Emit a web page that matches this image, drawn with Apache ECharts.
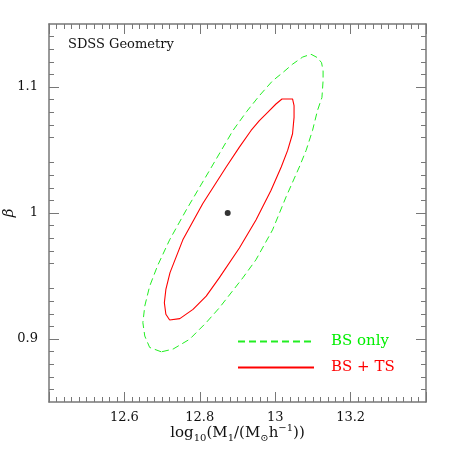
<!DOCTYPE html>
<html>
<head>
<meta charset="utf-8">
<script src="https://cdn.jsdelivr.net/npm/echarts@6/dist/echarts.min.js"></script>
<style>
  html, body { margin: 0; padding: 0; background: #fff; }
  #chart { width: 450px; height: 450px; }
</style>
</head>
<body>
<div id="chart"></div>
<script>
// contour points: [log10 M1, beta]
const bsOnly = [
  [12.698, 0.8898], [12.667, 0.8933], [12.654, 0.9024], [12.649, 0.9130], [12.654, 0.9261],
  [12.667, 0.9419], [12.688, 0.9582], [12.720, 0.9787], [12.764, 1.0024], [12.826, 1.0339],
  [12.888, 1.0655], [12.924, 1.0804], [12.958, 1.0931], [12.993, 1.1049], [13.020, 1.1114],
  [13.046, 1.1181], [13.073, 1.1238], [13.095, 1.126], [13.112, 1.1233], [13.123, 1.1193],
  [13.127, 1.1128], [13.127, 1.1049], [13.124, 1.0917], [13.112, 1.0812], [13.099, 1.0655],
  [13.082, 1.0497], [13.064, 1.0365], [13.029, 1.0129], [12.993, 0.9866], [12.949, 0.9629],
  [12.914, 0.9485], [12.852, 0.9248], [12.817, 0.9130], [12.773, 0.8998], [12.729, 0.8920],
  [12.698, 0.8898]
]
const bsTs = [
  [12.720, 0.9151], [12.710, 0.9196], [12.706, 0.9288], [12.710, 0.9393], [12.721, 0.9527],
  [12.755, 0.9787], [12.808, 1.0076], [12.870, 1.0365], [12.905, 1.0523], [12.936, 1.0655],
  [12.958, 1.0733], [12.980, 1.0799], [13.002, 1.0865], [13.018, 1.0905], [13.046, 1.0905],
  [13.050, 1.0852], [13.050, 1.0759], [13.046, 1.0629], [13.033, 1.0497], [13.016, 1.0365],
  [12.989, 1.0181], [12.949, 0.9945], [12.905, 0.9722], [12.852, 0.9487], [12.817, 0.9340],
  [12.782, 0.9235], [12.747, 0.9162], [12.720, 0.9151]
]
const bestFit = [[12.874, 1.0]]

const yMajor = [0.9, 1, 1.1]

const serif = 'DejaVu Serif'
const frame = '#777'

const chart = echarts.init(document.getElementById('chart'))

const xBase = {
  type: 'value',
  min: 12.4,
  max: 13.4,
  interval: 0.2,
  splitLine: { show: false },
  axisLine: { show: true, lineStyle: { color: frame, width: 1.5 } },
  axisTick: { show: true, inside: true, length: 10, lineStyle: { color: frame } },
  minorTick: { show: true, splitNumber: 10, length: 5, lineStyle: { color: frame } },
  minorSplitLine: { show: false }
}

// minor ticks every 0.01, long ticks only at the labelled values
const yBase = {
  type: 'value',
  min: 0.85,
  max: 1.15,
  interval: 0.05,
  splitLine: { show: false },
  axisLine: { show: true, lineStyle: { color: frame, width: 1.5 } },
  axisTick: { show: true, inside: true, length: 10, customValues: yMajor, lineStyle: { color: frame } },
  minorTick: { show: true, splitNumber: 5, length: 5, lineStyle: { color: frame } },
  minorSplitLine: { show: false }
}

chart.setOption({
  animation: false,
  title: {
    text: 'SDSS Geometry',
    left: 63,
    top: 33,
    textStyle: { fontFamily: serif, fontSize: 13, fontWeight: 'normal', color: '#111' }
  },
  legend: {
    orient: 'vertical',
    left: 232,
    top: 329,
    itemWidth: 76,
    itemHeight: 14,
    itemGap: 11,
    textStyle: { fontFamily: serif, fontSize: 15, padding: [0, 0, 0, 12] },
    itemStyle: { color: 'rgba(0,0,0,0)', borderWidth: 0 },
    data: [
      { name: 'BS only', textStyle: { color: '#00ee00' } },
      { name: 'BS + TS', textStyle: { color: '#ff0000' } }
    ]
  },
  grid: { left: 49, right: 24, top: 24, bottom: 48, containLabel: false, outerBoundsMode: 'none' },
  xAxis: [
    Object.assign({}, xBase, {
      position: 'bottom',
      axisLabel: {
        showMinLabel: false,
        showMaxLabel: false,
        margin: 9,
        fontFamily: serif,
        fontSize: 13,
        color: '#111'
      },
      name: '{a|log}{s|10}{a|(M}{s|1}{a|/(M}{s|⊙}{a|h}{p|−1}{a|))}',
      nameLocation: 'middle',
      nameGap: 21,
      nameMoveOverlap: false,
      nameTextStyle: {
        rich: {
          a: { fontFamily: serif, fontSize: 15, lineHeight: 20, color: '#111' },
          s: { fontFamily: serif, fontSize: 10, lineHeight: 10, verticalAlign: 'bottom', color: '#111' },
          p: { fontFamily: serif, fontSize: 10, lineHeight: 10, verticalAlign: 'top', color: '#111' }
        }
      }
    }),
    Object.assign({}, xBase, { position: 'top', axisLabel: { show: false } })
  ],
  yAxis: [
    Object.assign({}, yBase, {
      position: 'left',
      axisLabel: { customValues: yMajor, margin: 11, fontFamily: serif, fontSize: 13, color: '#111' },
      name: 'β',
      nameLocation: 'middle',
      nameGap: 32,
      nameMoveOverlap: false,
      nameTextStyle: { fontFamily: serif, fontSize: 15, fontStyle: 'italic', color: '#111' }
    }),
    Object.assign({}, yBase, { position: 'right', axisLabel: { show: false } })
  ],
  series: [
    {
      name: 'BS only',
      type: 'line',
      data: bsOnly,
      symbol: 'none',
      lineStyle: { color: '#22ee22', width: 1, type: [7, 4] },
      itemStyle: { color: '#22ee22' }
    },
    {
      name: 'BS + TS',
      type: 'line',
      data: bsTs,
      symbol: 'none',
      z: 3,
      lineStyle: { color: '#ff0000', width: 1.1 },
      itemStyle: { color: '#ff0000' }
    },
    {
      name: 'best fit',
      type: 'scatter',
      data: bestFit,
      symbolSize: 6,
      itemStyle: { color: '#000' }
    }
  ]
})
</script>
</body>
</html>
